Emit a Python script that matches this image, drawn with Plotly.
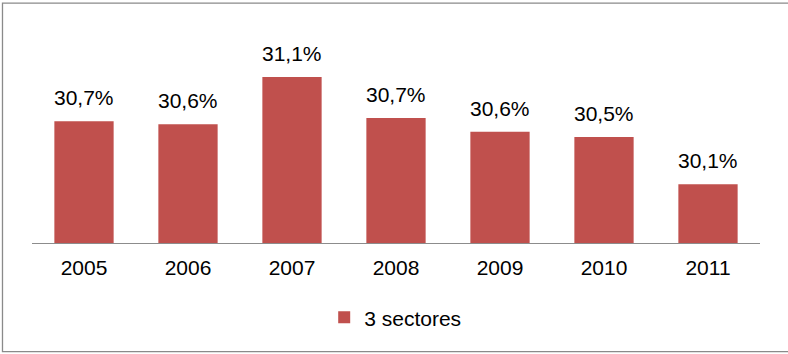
import plotly.graph_objects as go

years = ["2005", "2006", "2007", "2008", "2009", "2010", "2011"]
values = [30.66, 30.63, 31.08, 30.69, 30.56, 30.51, 30.06]
series_name = "3 sectores"

labels = [f"{v:.1f}".replace(".", ",") + "%" for v in values]

W, H = 788, 354
ml, mr, mt, mb = 32, 28.4, 33.3, 110.7
pw = W - ml - mr
ph = H - mt - mb

fig = go.Figure()
fig.add_trace(go.Bar(
    x=years, y=values, name=series_name,
    marker=dict(color="#C0504D", line=dict(width=0)),
))

for i, (v, t) in enumerate(zip(values, labels)):
    fig.add_annotation(x=i, y=v, text=t, showarrow=False, yanchor="bottom",
                       yshift=10, font=dict(size=21, color="#000000",
                                             family="Liberation Sans, Arial, sans-serif"))

def px_to_paper_x(px):
    return (px - ml) / pw

def px_to_paper_y(py):
    return (H - mb - py) / ph

fig.add_shape(type="rect", xref="paper", yref="paper",
              x0=px_to_paper_x(2.5), x1=px_to_paper_x(792),
              y0=px_to_paper_y(352), y1=px_to_paper_y(3.5),
              line=dict(color="#8a8a8a", width=1.3), fillcolor="rgba(0,0,0,0)", layer="above")

fig.update_layout(
    width=W, height=H,
    margin=dict(l=ml, r=mr, t=mt, b=mb, pad=0),
    paper_bgcolor="white", plot_bgcolor="white",
    font=dict(family="Liberation Sans, Arial, sans-serif", size=21, color="#000000"),
    bargap=0.43,
    showlegend=True,
    legend=dict(orientation="h", x=px_to_paper_x(395), xanchor="center",
                y=px_to_paper_y(318), yanchor="middle",
                font=dict(size=21), itemwidth=30, bgcolor="rgba(0,0,0,0)"),
    xaxis=dict(type="category", range=[-0.5, len(years) - 0.5], showline=True,
               linecolor="#8c8c8c", linewidth=1.3,
               ticks="", showgrid=False, zeroline=False, tickfont=dict(size=21),
               ticklabelstandoff=6),
    yaxis=dict(range=[29.5, 31.5], visible=False, showgrid=False, zeroline=False),
)

fig.write_html("out.html")
